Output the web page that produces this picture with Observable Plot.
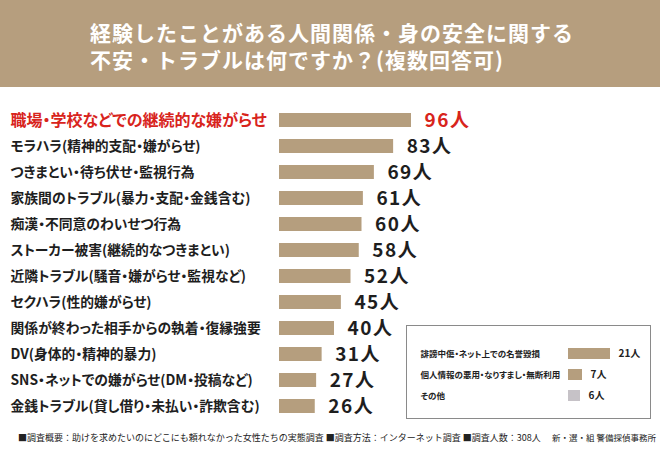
<!DOCTYPE html>
<html><head><meta charset="utf-8">
<script src="https://cdn.jsdelivr.net/npm/d3@7"></script>
<script src="https://cdn.jsdelivr.net/npm/@observablehq/plot@0.6"></script>
<style>
body{margin:0;width:660px;height:450px;background:#fff;font-family:"Noto Sans CJK JP","Noto Sans",sans-serif;position:relative;overflow:hidden}
#title{position:absolute;left:0;top:0;width:660px;height:87px;background:#b69e7e;color:#fff;font-weight:700;font-size:21px;letter-spacing:1px;line-height:27px;box-sizing:border-box;padding:19px 0 0 90px}
#main{position:absolute;left:0;top:88px}
#inset{position:absolute;left:406px;top:325px;width:243px;height:92px;border:1px solid #8a8a8a;background:#fff}
#footer{position:absolute;left:18px;top:431px;font-size:9px;color:#222;white-space:nowrap}
#footer2{position:absolute;left:552px;top:431px;font-size:8.5px;color:#222;white-space:nowrap}
.palt text{font-feature-settings:"palt"}
</style></head>
<body>
<div id="title">経験したことがある人間関係・身の安全に関する<br>不安・トラブルは何ですか？(複数回答可)</div>
<div id="main" class="palt"></div>
<div id="inset" class="palt"></div>
<div id="footer">■調査概要：助けを求めたいのにどこにも頼れなかった女性たちの実態調査 ■調査方法：インターネット調査 ■調査人数：308人</div>
<div id="footer2">新・選・組 警備探偵事務所</div>
<script>
const categories = [
  "職場・学校などでの継続的な嫌がらせ",
  "モラハラ(精神的支配・嫌がらせ)",
  "つきまとい・待ち伏せ・監視行為",
  "家族間のトラブル(暴力・支配・金銭含む)",
  "痴漢・不同意のわいせつ行為",
  "ストーカー被害(継続的なつきまとい)",
  "近隣トラブル(騒音・嫌がらせ・監視など)",
  "セクハラ(性的嫌がらせ)",
  "関係が終わった相手からの執着・復縁強要",
  "DV(身体的・精神的暴力)",
  "SNS・ネットでの嫌がらせ(DM・投稿など)",
  "金銭トラブル(貸し借り・未払い・詐欺含む)"
];
const counts = [96, 83, 69, 61, 60, 58, 52, 45, 40, 31, 27, 26];

const otherCategories = [
  "誹謗中傷・ネット上での名誉毀損",
  "個人情報の悪用・なりすまし・無断利用",
  "その他"
];
const otherCounts = [21, 7, 6];

const unit = "人";
const tan = "#b59e7e";
const red = "#d8241c";

const data = categories.map((name, i) => ({name, value: counts[i], first: i === 0}));
const other = otherCategories.map((name, i) => ({name, value: otherCounts[i]}));

const main = Plot.plot({
  width: 660, height: 345,
  marginLeft: 279, marginRight: 249, marginTop: 12.5, marginBottom: 8,
  x: {domain: [0, 96], axis: null},
  y: {domain: categories, axis: null, padding: 0.45},
  style: {fontFamily: '"Noto Sans CJK JP","Noto Sans",sans-serif', overflow: "visible"},
  marks: [
    Plot.barX(data, {y: "name", x: "value", fill: tan}),
    Plot.text(data, {y: "name", text: "name", frameAnchor: "left", textAnchor: "start", dx: -269,
      fill: d => d.first ? red : "#1e1e1e", fontSize: d => d.first ? 16 : 13.8, fontWeight: 700}),
    Plot.text(data, {y: "name", x: "value", text: d => d.value + unit, textAnchor: "start", dx: 13,
      fill: d => d.first ? red : "#1e1e1e", fontSize: 19, fontWeight: 700})
  ]
});
main.querySelectorAll("g[aria-label='text']")[1]?.setAttribute("letter-spacing", "1.5");
document.getElementById("main").append(main);

const inset = Plot.plot({
  width: 243, height: 92,
  marginLeft: 161, marginRight: 40, marginTop: 11, marginBottom: 5,
  x: {domain: [0, 21], axis: null},
  y: {domain: otherCategories, axis: null, padding: 0.47},
  style: {fontFamily: '"Noto Sans CJK JP","Noto Sans",sans-serif', overflow: "visible", background: "transparent"},
  marks: [
    Plot.barX(other, {y: "name", x: "value", fill: d => d.name === "その他" ? "#c6c2c7" : tan}),
    Plot.text(other, {y: "name", text: "name", frameAnchor: "left", textAnchor: "start", dx: -148,
      fill: "#222", fontSize: 8.5, fontWeight: 700}),
    Plot.text(other, {y: "name", x: "value", text: d => d.value + unit, textAnchor: "start", dx: 8,
      fill: "#222", fontSize: 10, fontWeight: 700})
  ]
});
document.getElementById("inset").append(inset);
</script>
</body></html>
